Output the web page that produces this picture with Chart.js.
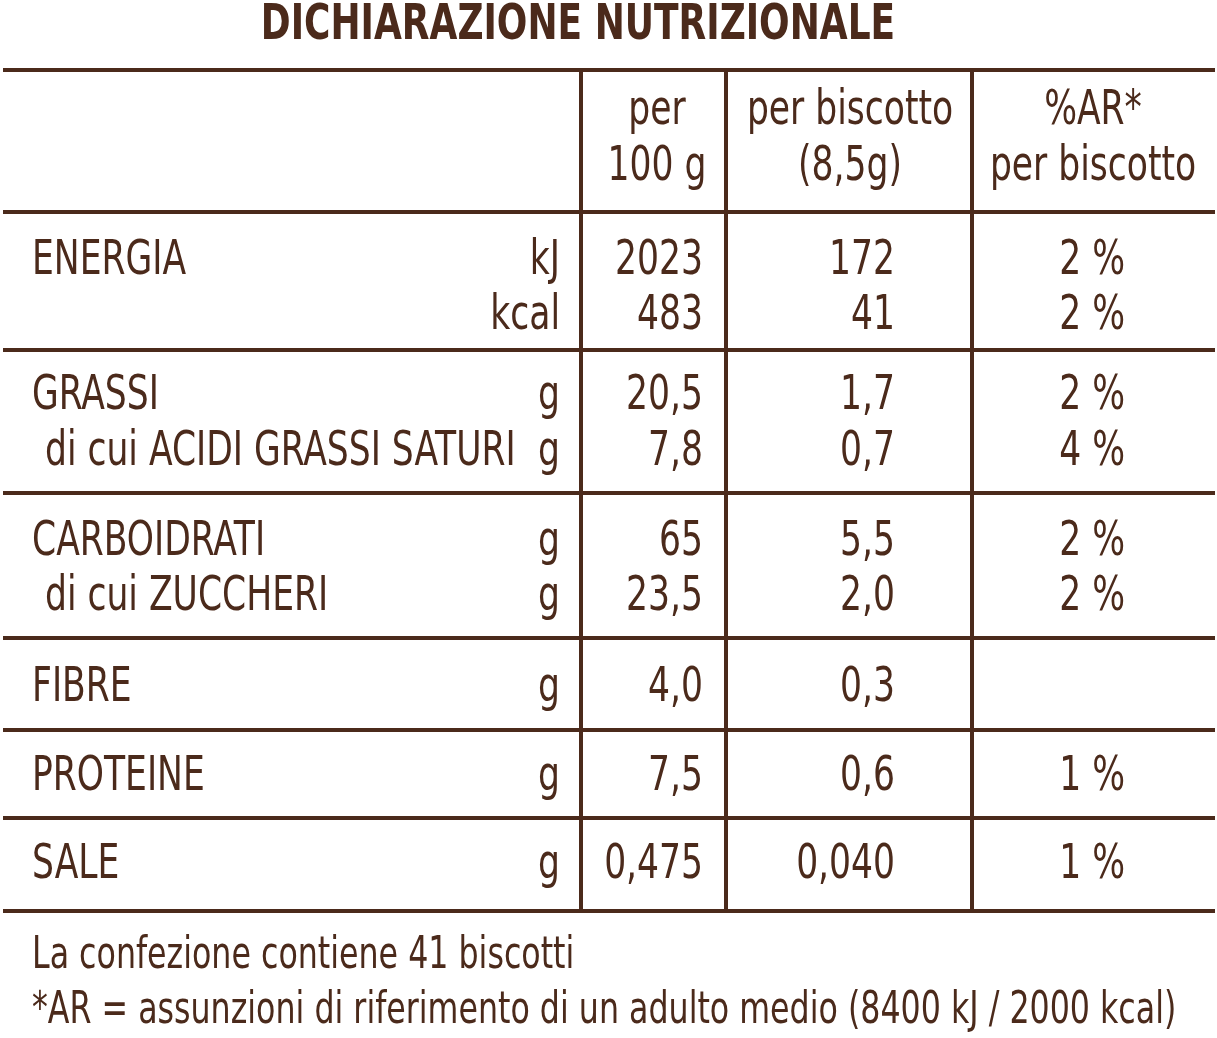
<!DOCTYPE html>
<html><head><meta charset="utf-8">
<script src="https://cdn.jsdelivr.net/npm/chart.js@4"></script>
<style>html,body{margin:0;padding:0;background:#fff}#wrap{width:1217px;height:1038px}</style>
</head><body><div id="wrap"><canvas id="c"></canvas></div>
<script>
const title = "DICHIARAZIONE NUTRIZIONALE";
const headers = [["per","100 g"],["per biscotto","(8,5g)"],["%AR*","per biscotto"]];
const labels = ["ENERGIA","","GRASSI"," di cui ACIDI GRASSI SATURI","CARBOIDRATI"," di cui ZUCCHERI","FIBRE","PROTEINE","SALE"];
const units = ["kJ","kcal","g","g","g","g","g","g","g"];
const per100 = ["2023","483","20,5","7,8","65","23,5","4,0","7,5","0,475"];
const perBiscotto = ["172","41","1,7","0,7","5,5","2,0","0,3","0,6","0,040"];
const perAR = ["2 %","2 %","2 %","4 %","2 %","2 %","","1 %","1 %"];
const footer = ["La confezione contiene 41 biscotti","*AR = assunzioni di riferimento di un adulto medio (8400 kJ / 2000 kcal)"];

const C = "#4b2a1b";
const F = "'Liberation Sans Narrow','DejaVu Sans Condensed',sans-serif";
const rowY = [262,317,397,453,543,598,689,778,866];
const hLines = [70,212,350,493,638,730,818,911];
const vLines = [581,726,972];
const SX = 0.8;

function txt(ctx,s,x,y,align){
  ctx.save(); ctx.translate(x,y); ctx.scale(SX,1); ctx.textAlign=align; ctx.fillText(s,0,0); ctx.restore();
}

const tablePlugin = {
  id:'table',
  afterDraw(chart){
    const ctx = chart.ctx;
    ctx.save();
    ctx.fillStyle = C; ctx.strokeStyle = C;
    ctx.textBaseline = 'middle';
    ctx.font = "bold 50px " + F;
    txt(ctx,title,578,26,'center');
    hLines.forEach(y=>{ctx.lineWidth=4; ctx.beginPath(); ctx.moveTo(3,y); ctx.lineTo(1215,y); ctx.stroke();});
    vLines.forEach(x=>{ctx.lineWidth=4; ctx.beginPath(); ctx.moveTo(x,70); ctx.lineTo(x,911); ctx.stroke();});
    ctx.font = "48px " + F;
    const hc = [657,850,1093];
    headers.forEach((h,i)=>{txt(ctx,h[0],hc[i],112,'center'); txt(ctx,h[1],hc[i],168,'center');});
    rowY.forEach((y,i)=>{
      txt(ctx,labels[i], labels[i].startsWith(' ')?34:32, y,'left');
      txt(ctx,units[i],560,y,'right');
      txt(ctx,per100[i],703,y,'right');
      txt(ctx,perBiscotto[i],895,y,'right');
      txt(ctx,perAR[i],1125,y,'right');
    });
    ctx.font = "44px " + F;
    txt(ctx,footer[0],32,957,'left'); txt(ctx,footer[1],32,1012,'left');
    ctx.restore();
  }
};

new Chart(document.getElementById('c'),{
  type:'bar',
  data:{labels:[],datasets:[]},
  options:{responsive:true,maintainAspectRatio:false,animation:false,
    plugins:{legend:{display:false},tooltip:{enabled:false}},
    scales:{x:{display:false},y:{display:false}}},
  plugins:[tablePlugin]
});
</script></body></html>
